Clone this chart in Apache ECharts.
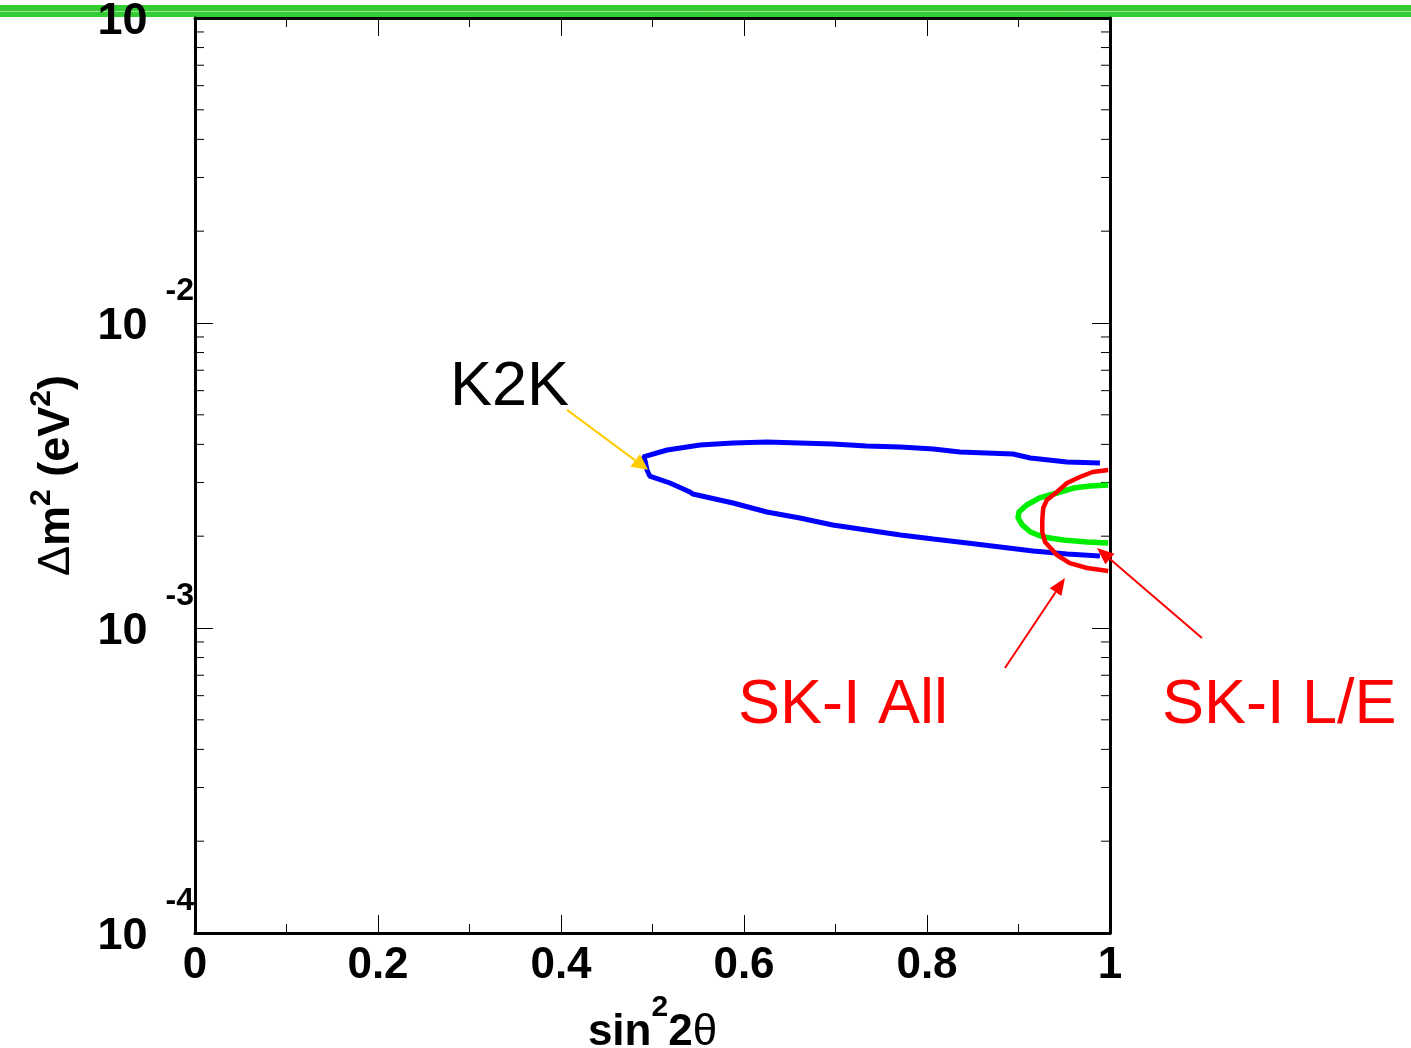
<!DOCTYPE html>
<html><head><meta charset="utf-8">
<script src="https://cdn.jsdelivr.net/npm/echarts@6/dist/echarts.min.js"></script>
<style>html,body{margin:0;padding:0;background:#fff}#c{width:1411px;height:1048px}</style>
</head><body><div id="c"></div>
<script>
// ---- data (sin^2 2θ, Δm^2 in units of 1e-3 eV^2) ----
const xTickLabels = ['0', '0.2', '0.4', '0.6', '0.8', '1'];
const yDecades = [1e-4, 1e-3, 1e-2, 1e-1];
const minorMultipliers = [2, 3, 4, 5, 6, 7, 8, 9];

const k2kSin = [0.989, 0.953, 0.913, 0.894, 0.836, 0.807, 0.771, 0.734, 0.697, 0.661, 0.625, 0.588, 0.552, 0.516, 0.490,
                0.489, 0.492, 0.494, 0.497, 0.519, 0.541, 0.544, 0.588, 0.625, 0.661, 0.697, 0.734, 0.771, 0.807, 0.844, 0.880, 0.916, 0.953, 0.989];
const k2kDm  = [3.475, 3.502, 3.609, 3.720, 3.776, 3.863, 3.921, 3.951, 4.012, 4.043, 4.073, 4.043, 3.981, 3.834, 3.637,
                3.600, 3.530, 3.296, 3.150, 2.988, 2.792, 2.750, 2.570, 2.401, 2.295, 2.177, 2.096, 2.018, 1.958, 1.900, 1.844, 1.789, 1.748, 1.722];

const skLESin = [0.998, 0.978, 0.960, 0.942, 0.923, 0.909, 0.9005, 0.8995, 0.904, 0.913, 0.927, 0.949, 0.975, 0.998];
const skLEDm  = [2.944, 2.922, 2.877, 2.771, 2.669, 2.531, 2.401, 2.295, 2.177, 2.064, 1.988, 1.943, 1.914, 1.900];

const skAllSin = [0.998, 0.981, 0.967, 0.953, 0.942, 0.931, 0.927, 0.926, 0.926, 0.929, 0.942, 0.956, 0.975, 0.998];
const skAllDm  = [3.296, 3.247, 3.127, 2.988, 2.792, 2.629, 2.474, 2.261, 2.064, 1.914, 1.735, 1.633, 1.573, 1.538];

// annotation anchors in data units: [x1, y1, x2, y2]
const k2kArrow   = [0.4066, 5.19e-3, 0.4951, 3.30e-3];
const skAllArrow = [0.8852, 7.39e-4, 0.9508, 1.458e-3];
const skLEArrow  = [1.1005, 9.27e-4, 0.9858, 1.830e-3];
const labelTexts = ['K2K', 'SK-I All', 'SK-I L/E'];
const labelAnchors = [[0.2787, 6.12e-3], [0.5934, 5.55e-4], [1.0568, 5.55e-4]];

// ---- build ----
const FONT = 'Liberation Sans, Arial, Helvetica, sans-serif';
const toPairs = (xs, ys) => xs.map((x, i) => [x, ys[i] * 1e-3]);
const minorTicks = [];
yDecades.slice(0, 3).forEach(d => minorMultipliers.forEach(m => minorTicks.push([0, m * d])));

function arrowRender(color, hl, hw) {
  return function (params, api) {
    const a = api.coord([api.value(0), api.value(1)]);
    const b = api.coord([api.value(2), api.value(3)]);
    const dx = b[0] - a[0], dy = b[1] - a[1], len = Math.hypot(dx, dy);
    const ux = dx / len, uy = dy / len;
    const bx = b[0] - ux * hl, by = b[1] - uy * hl;
    return { type: 'group', children: [
      { type: 'line', shape: { x1: a[0], y1: a[1], x2: bx, y2: by }, style: { stroke: color, lineWidth: 2 } },
      { type: 'polygon', shape: { points: [[b[0], b[1]], [bx - uy * hw, by + ux * hw], [bx + uy * hw, by - ux * hw]] }, style: { fill: color } }
    ]};
  };
}

const chart = echarts.init(document.getElementById('c'), null, { renderer: 'canvas' });
const axisCommon = { min: 0, max: 1, interval: 0.2 };
chart.setOption({
  animation: false,
  backgroundColor: '#fff',
  grid: { left: 195, right: 301, top: 18, bottom: 115, containLabel: false, outerBoundsMode: 'none' },
  graphic: [
    { type: 'rect', z: -10, shape: { x: 0, y: 5, width: 1411, height: 12 }, style: { fill: '#33cc33' } },
    { type: 'line', z: -9, shape: { x1: 0, y1: 11.5, x2: 1411, y2: 11.5 }, style: { stroke: '#9be59b', lineWidth: 1 } }
  ],
  xAxis: [
    Object.assign({
      type: 'value', position: 'bottom',
      axisLine: { show: true, onZero: false, lineStyle: { color: '#000', width: 3 } },
      axisTick: { show: true, inside: true, length: 18, lineStyle: { color: '#000', width: 1 } },
      minorTick: { show: true, splitNumber: 2, length: 9, lineStyle: { color: '#000', width: 1 } },
      splitLine: { show: false }, minorSplitLine: { show: false },
      axisLabel: { show: true, margin: 11, color: '#000', fontSize: 44, fontWeight: 'bold', fontFamily: FONT,
        formatter: v => xTickLabels[Math.round(v / 0.2)] },
      name: '{a|sin}{s|2}{a|2}{t|θ}', nameLocation: 'middle', nameGap: 54,
      nameTextStyle: { color: '#000', fontFamily: FONT, fontSize: 44, fontWeight: 'bold', lineHeight: 80,
        rich: {
          a: { fontFamily: FONT, fontSize: 44, fontWeight: 'bold', lineHeight: 80, color: '#000' },
          s: { fontFamily: FONT, fontSize: 30, fontWeight: 'bold', lineHeight: 28, verticalAlign: 'top', color: '#000' },
          t: { fontFamily: FONT, fontSize: 44, fontWeight: 'normal', lineHeight: 80, color: '#000' }
        } }
    }, axisCommon),
    Object.assign({
      type: 'value', position: 'top',
      axisLine: { show: true, onZero: false, lineStyle: { color: '#000', width: 3 } },
      axisTick: { show: true, inside: true, length: 18, lineStyle: { color: '#000', width: 1 } },
      minorTick: { show: true, splitNumber: 2, length: 9, lineStyle: { color: '#000', width: 1 } },
      splitLine: { show: false }, axisLabel: { show: false }
    }, axisCommon)
  ],
  yAxis: [
    {
      type: 'log', logBase: 10, min: 1e-4, max: 1e-1, position: 'left',
      axisLine: { show: true, onZero: false, lineStyle: { color: '#000', width: 3 } },
      axisTick: { show: true, inside: true, length: 18, lineStyle: { color: '#000', width: 1 } },
      splitLine: { show: false },
      axisLabel: { show: true, margin: 1, padding: [8, 0, 0, 0], color: '#000', fontFamily: FONT,
        formatter: v => '{b|10}{e|' + Math.round(Math.log10(v)) + '}',
        rich: {
          b: { fontFamily: FONT, fontSize: 45, fontWeight: 'bold', lineHeight: 104, padding: [0, 18, 0, 0], color: '#000' },
          e: { fontFamily: FONT, fontSize: 32, fontWeight: 'bold', lineHeight: 30, verticalAlign: 'top', color: '#000' }
        } },
      name: '{d|Δ}{a|m}{s|2}{a| (eV}{s|2}{a|)}', nameLocation: 'middle', nameRotate: 90, nameGap: 101,
      nameTextStyle: { color: '#000', fontFamily: FONT, fontSize: 45, fontWeight: 'bold', lineHeight: 60,
        rich: {
          d: { fontFamily: FONT, fontSize: 45, fontWeight: 'normal', lineHeight: 60, color: '#000' },
          a: { fontFamily: FONT, fontSize: 45, fontWeight: 'bold', lineHeight: 60, color: '#000' },
          s: { fontFamily: FONT, fontSize: 30, fontWeight: 'bold', lineHeight: 28, verticalAlign: 'top', color: '#000' }
        } }
    },
    {
      type: 'log', logBase: 10, min: 1e-4, max: 1e-1, position: 'right',
      axisLine: { show: true, onZero: false, lineStyle: { color: '#000', width: 3 } },
      axisTick: { show: true, inside: true, length: 18, lineStyle: { color: '#000', width: 1 } },
      splitLine: { show: false }, axisLabel: { show: false }
    }
  ],
  series: [
    { type: 'custom', name: 'minorTicks', xAxisIndex: 0, yAxisIndex: 0, silent: true, z: 1,
      data: minorTicks,
      renderItem: (params, api) => {
        const v = api.value(1);
        const l = api.coord([0, v]), r = api.coord([1, v]);
        return { type: 'group', children: [
          { type: 'line', shape: { x1: l[0], y1: l[1], x2: l[0] + 9, y2: l[1] }, style: { stroke: '#000', lineWidth: 1 } },
          { type: 'line', shape: { x1: r[0] - 9, y1: r[1], x2: r[0], y2: r[1] }, style: { stroke: '#000', lineWidth: 1 } }
        ]};
      } },
    { type: 'line', name: 'K2K', data: toPairs(k2kSin, k2kDm), symbol: 'none', smooth: false,
      lineStyle: { color: '#0000ff', width: 5 }, itemStyle: { color: '#0000ff' }, z: 3 },
    { type: 'line', name: 'SK-I L/E', data: toPairs(skLESin, skLEDm), symbol: 'none', smooth: false,
      lineStyle: { color: '#00ee00', width: 5.5 }, itemStyle: { color: '#00ee00' }, z: 4 },
    { type: 'line', name: 'SK-I All', data: toPairs(skAllSin, skAllDm), symbol: 'none', smooth: false,
      lineStyle: { color: '#ff0000', width: 4.5 }, itemStyle: { color: '#ff0000' }, z: 5 },
    { type: 'custom', name: 'k2kArrow', silent: true, clip: false, z: 6,
      encode: { x: [0, 2], y: [1, 3] }, data: [k2kArrow], renderItem: arrowRender('#ffcc00', 16, 8) },
    { type: 'custom', name: 'skArrows', silent: true, clip: false, z: 6,
      encode: { x: [0, 2], y: [1, 3] }, data: [skAllArrow, skLEArrow], renderItem: arrowRender('#ff0000', 17, 7) },
    { type: 'custom', name: 'labels', silent: true, clip: false, z: 7,
      data: labelAnchors.map((p, i) => [p[0], p[1], i]),
      renderItem: (params, api) => {
        const p = api.coord([api.value(0), api.value(1)]);
        const i = api.value(2);
        return { type: 'text', x: p[0], y: p[1], style: {
          text: labelTexts[i], fill: i === 0 ? '#000' : '#ff0000',
          font: '63px ' + FONT, align: 'left', textAlign: 'left', verticalAlign: 'middle', textVerticalAlign: 'middle' } };
      } }
  ]
});
</script>
</body></html>
